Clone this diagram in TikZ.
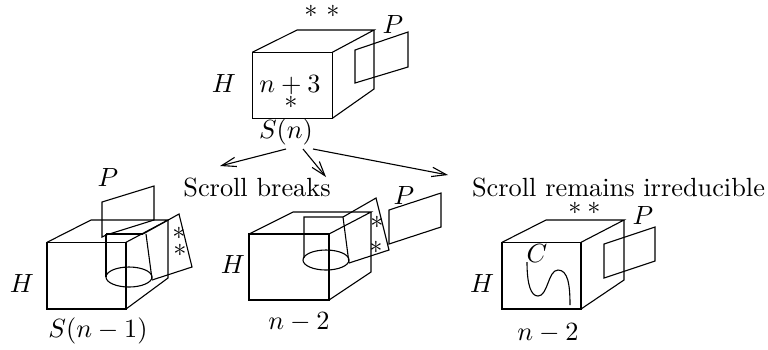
\documentclass[tikz,border=0pt]{standalone}
\usetikzlibrary{arrows.meta}
\tikzset{
  lbl/.style={inner sep=0pt,outer sep=0pt},
  edge/.style={line width=0.42pt,line join=miter},
  arr/.style={line width=0.42pt,-{Straight Barb[length=5.5pt,width=5pt,angle'=36]}},
}
\begin{document}
\begin{tikzpicture}[x=0.38pt,y=-0.38pt]
\useasboundingbox (0,0) rectangle (768,349);
% top box
\draw[edge] (252.3,52.3) rectangle (332.3,118.3);
\draw[edge] (252.3,52.3) -- (297,30) -- (374,30) -- (332.3,52.3);
\draw[edge] (374,30) -- (374,89) -- (332.3,118.3);
\draw[edge] (355,50) -- (408,32) -- (408,67) -- (355,83) -- cycle;
\node[lbl] (tP) at (393,24) {$P$};
\node[lbl] (tH) at (224,83) {$H$};
\node[lbl] (tN) at (290,85) {$n+3$};
\node[lbl] (tS) at (291,102) {$*$};
\node[lbl] (tA) at (311,11) {$*$};
\node[lbl] (tB) at (333,11) {$*$};
\node[lbl] (Sn) at (286,132) {$S(n)$};
\coordinate (a0) at (286,149);
\coordinate (a1) at (220,166);
\coordinate (b0) at (303,149);
\coordinate (b1) at (326,177);
\coordinate (c0) at (313,149);
\coordinate (c1) at (448,175);
\draw[arr] (a0) -- (a1);
\draw[arr] (b0) -- (b1);
\draw[arr] (c0) -- (c1);
\node[lbl] (sb) at (257,187) {Scroll breaks};
\node[lbl] (sr) at (618.5,187) {Scroll remains irreducible};
% left box
\draw[edge] (47,242.3) rectangle (126,309);
\draw[edge] (47,242.3) -- (91,220) -- (168,220) -- (126,242.3);
\draw[edge] (168,220) -- (168,278) -- (126,309);
\draw[edge] (106,235) -- (154,220) -- (154,186) -- (102,202) -- (102,237) -- (106,235);
\draw[edge] (106,234) -- (143,234) (106,234) -- (106,277);
\draw[edge] (146,234) -- (152,279);
\draw[edge] (129,277) ellipse [x radius=23,y radius=10];
\draw[edge] (143,234) -- (179,214) -- (192,267) -- (152,280);
\node[lbl] (lP) at (108,177) {$P$};
\node[lbl] (lH) at (22,283) {$H$};
\node[lbl] (lA) at (179,233) {$*$};
\node[lbl] (lB) at (180,250) {$*$};
\node[lbl] (lS) at (98,331) {$S(n-1)$};
% middle box
\draw[edge] (249,234) rectangle (329,300);
\draw[edge] (249,234) -- (293,212) -- (371,212) -- (329,234);
\draw[edge] (371,212) -- (371,272) -- (329,300);
\draw[edge] (304,258) -- (304,217) -- (343,217) -- (349,263);
\draw[edge] (326,260) ellipse [x radius=23,y radius=10];
\draw[edge] (343,217) -- (376,198) -- (389,250) -- (349,263);
\draw[edge] (389,210) -- (441,193) -- (441,227) -- (389,244) -- cycle;
\node[lbl] (mP) at (404,195) {$P$};
\node[lbl] (mH) at (233,264) {$H$};
\node[lbl] (mA) at (377,222) {$*$};
\node[lbl] (mB) at (376,247) {$*$};
\node[lbl] (mN) at (299,322) {$n-2$};
% right box
\draw[edge] (502,242.3) rectangle (581,309);
\draw[edge] (502,242.3) -- (546,220) -- (624,220) -- (581,242.3);
\draw[edge] (624,220) -- (624,280) -- (581,309);
\draw[edge] (604,244) -- (655,227) -- (655,261) -- (604,278) -- cycle;
\draw[edge] (527,262) .. controls (527,285) and (531,296) .. (538,296)
  .. controls (548,296) and (548,270) .. (558,270)
  .. controls (568,270) and (570,285) .. (570,305);
\node[lbl] (rP) at (643,215) {$P$};
\node[lbl] (rA) at (575,208) {$*$};
\node[lbl] (rB) at (594,208) {$*$};
\node[lbl] (rH) at (482,283) {$H$};
\node[lbl] (rC) at (537,253) {$C$};
\node[lbl] (rN) at (548,333) {$n-2$};
\end{tikzpicture}
\end{document}
